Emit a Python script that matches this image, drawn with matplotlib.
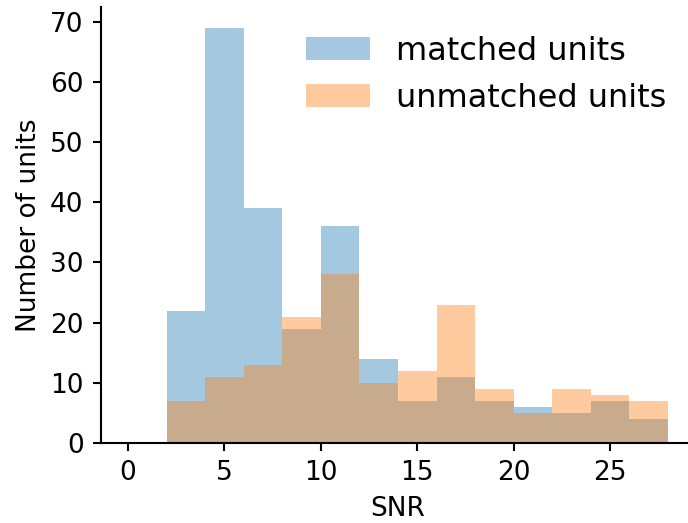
import matplotlib
matplotlib.use("Agg")
import matplotlib.pyplot as plt
import numpy as np

bin_edges = [0, 2, 4, 6, 8, 10, 12, 14, 16, 18, 20, 22, 24, 26, 28]
matched_counts = [0, 22, 69, 39, 19, 36, 14, 7, 11, 7, 6, 5, 7, 4]
unmatched_counts = [0, 7, 11, 13, 21, 28, 10, 12, 23, 9, 5, 9, 8, 7]
labels = ["matched units", "unmatched units"]

fig = plt.figure(figsize=(6.88, 5.23), dpi=100)
ax = fig.add_axes([101/688, 80/523, 594/688, 436/523])

centers = [(a + b) / 2 for a, b in zip(bin_edges[:-1], bin_edges[1:])]
ax.hist(centers, bins=bin_edges, weights=matched_counts, alpha=0.4, color="C0", label=labels[0])
ax.hist(centers, bins=bin_edges, weights=unmatched_counts, alpha=0.4, color="C1", label=labels[1])

for s in ["top", "right"]:
    ax.spines[s].set_visible(False)
for s in ["left", "bottom"]:
    ax.spines[s].set_linewidth(1.5)
ax.tick_params(labelsize=19, length=6, width=1.5, pad=6.5)
ax.set_xticks([0, 5, 10, 15, 20, 25])
ax.set_yticks([0, 10, 20, 30, 40, 50, 60, 70])
ax.set_xlabel("SNR", fontsize=19, labelpad=7)
ax.set_ylabel("Number of units", fontsize=19, labelpad=6)
ax.legend(loc="upper right", frameon=False, fontsize=23)

fig.savefig("out.png", dpi=100)
